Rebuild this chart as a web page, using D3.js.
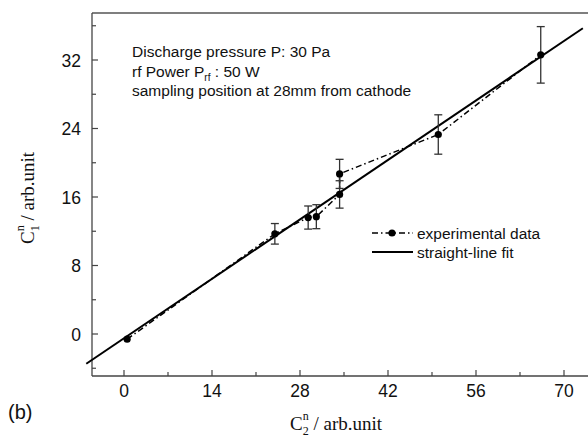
<!DOCTYPE html>
<html>
<head>
<meta charset="utf-8">
<script src="https://cdn.jsdelivr.net/npm/d3@7"></script>
<style>
  body { margin: 0; background: #fff; }
  text { fill: #111; }
</style>
</head>
<body>
<svg id="chart" width="588" height="437"></svg>
<script>
// data (C2^n, C1^n, error)
const c2 = [0.5, 24.0, 29.3, 30.6, 34.3, 34.3, 50.0, 66.3];
const c1 = [-0.6, 11.7, 13.6, 13.7, 16.3, 18.7, 23.3, 32.6];
const err = [0, 1.2, 1.35, 1.4, 1.6, 1.7, 2.3, 3.3];
const fitX = [-6, 73];
const fitSlope = 0.496, fitIntercept = -0.5;
const xTicks = [0, 14, 28, 42, 56, 70];
const yTicks = [0, 8, 16, 24, 32];
const xMinor = [-7, 7, 21, 35, 49, 63];
const yMinor = [-4, 4, 12, 20, 28, 36];

const svg = d3.select("#chart");
const pLeft = 92, pRight = 588, pTop = 13, pBottom = 376;

const x = d3.scaleLinear().domain([0, 70]).range([124, 564]);
const y = d3.scaleLinear().domain([0, 32]).range([334, 60]);

const pts = c2.map((v, i) => ({ x: v, y: c1[i], e: err[i] }));

// frame
svg.append("line").attr("x1", pLeft).attr("x2", pRight).attr("y1", pTop).attr("y2", pTop)
  .attr("stroke", "#555").attr("stroke-width", 1.3);
svg.append("line").attr("x1", pLeft).attr("x2", pRight).attr("y1", pBottom).attr("y2", pBottom)
  .attr("stroke", "#444").attr("stroke-width", 1.3);
svg.append("line").attr("x1", pLeft).attr("x2", pLeft).attr("y1", pTop).attr("y2", pBottom)
  .attr("stroke", "#444").attr("stroke-width", 1.3);

// ticks (inward)
const tickG = svg.append("g").attr("stroke", "#444").attr("stroke-width", 1.2);
tickG.selectAll(".xt").data(xTicks).join("line").attr("class", "xt")
  .attr("x1", d => x(d)).attr("x2", d => x(d)).attr("y1", pBottom).attr("y2", pBottom - 6);
tickG.selectAll(".xm").data(xMinor.filter(d => x(d) > pLeft && x(d) < pRight)).join("line").attr("class", "xm")
  .attr("x1", d => x(d)).attr("x2", d => x(d)).attr("y1", pBottom).attr("y2", pBottom - 4);
tickG.selectAll(".yt").data(yTicks).join("line").attr("class", "yt")
  .attr("x1", pLeft).attr("x2", pLeft + 6).attr("y1", d => y(d)).attr("y2", d => y(d));
tickG.selectAll(".ym").data(yMinor.filter(d => y(d) > pTop && y(d) < pBottom)).join("line").attr("class", "ym")
  .attr("x1", pLeft).attr("x2", pLeft + 4).attr("y1", d => y(d)).attr("y2", d => y(d));

// tick labels
const sans = "'Liberation Sans', Arial, sans-serif";
svg.append("g").selectAll("text").data(xTicks).join("text")
  .attr("x", d => x(d)).attr("y", 397).attr("text-anchor", "middle")
  .style("font", "17.5px " + sans).text(d => d);
svg.append("g").selectAll("text").data(yTicks).join("text")
  .attr("x", 81).attr("y", d => y(d) + 6.5).attr("text-anchor", "end")
  .style("font", "17.5px " + sans).text(d => d);

// straight-line fit
svg.append("line")
  .attr("x1", x(fitX[0])).attr("y1", y(fitSlope * fitX[0] + fitIntercept))
  .attr("x2", x(fitX[1])).attr("y2", y(fitSlope * fitX[1] + fitIntercept))
  .attr("stroke", "#000").attr("stroke-width", 2);

// experimental data, dash-dot
const order = [0, 1, 2, 3, 4, 5, 6, 7];
svg.append("path")
  .attr("d", d3.line().x(i => x(pts[i].x)).y(i => y(pts[i].y))(order))
  .attr("fill", "none").attr("stroke", "#000").attr("stroke-width", 1.5)
  .attr("stroke-dasharray", "6,3,1.5,3");

// error bars
const eb = svg.append("g").attr("stroke", "#333").attr("stroke-width", 1.3);
pts.filter(p => p.e > 0).forEach(p => {
  eb.append("line").attr("x1", x(p.x)).attr("x2", x(p.x)).attr("y1", y(p.y - p.e)).attr("y2", y(p.y + p.e));
  eb.append("line").attr("x1", x(p.x) - 4).attr("x2", x(p.x) + 4).attr("y1", y(p.y - p.e)).attr("y2", y(p.y - p.e));
  eb.append("line").attr("x1", x(p.x) - 4).attr("x2", x(p.x) + 4).attr("y1", y(p.y + p.e)).attr("y2", y(p.y + p.e));
});

svg.append("g").selectAll("circle").data(pts).join("circle")
  .attr("cx", d => x(d.x)).attr("cy", d => y(d.y)).attr("r", 3.6).attr("fill", "#000");

// annotation
const ann = svg.append("text").attr("x", 132).attr("y", 57)
  .style("font", "15.5px " + sans);
ann.append("tspan").attr("x", 132).attr("y", 57).text("Discharge pressure P: 30 Pa");
const l2 = ann.append("tspan").attr("x", 132).attr("y", 77).text("rf Power P");
l2.append("tspan").attr("dy", 4).style("font-size", "10px").text("rf");
l2.append("tspan").attr("dy", -4).text(" : 50 W");
ann.append("tspan").attr("x", 132).attr("y", 96).text("sampling position at 28mm from cathode");

// legend
const lg = svg.append("g");
lg.append("line").attr("x1", 372).attr("x2", 413).attr("y1", 233).attr("y2", 233)
  .attr("stroke", "#000").attr("stroke-width", 1.5).attr("stroke-dasharray", "6,3,1.5,3");
lg.append("circle").attr("cx", 392).attr("cy", 233).attr("r", 3.6).attr("fill", "#000");
lg.append("line").attr("x1", 372).attr("x2", 413).attr("y1", 252).attr("y2", 252)
  .attr("stroke", "#000").attr("stroke-width", 2);
lg.append("text").attr("x", 417).attr("y", 238.5)
  .style("font", "15.5px " + sans).text("experimental data");
lg.append("text").attr("x", 417).attr("y", 257.5)
  .style("font", "15.5px " + sans).text("straight-line fit");

// axis titles
const serif = "19px 'Liberation Serif', 'Times New Roman', serif";
const xt = svg.append("text").attr("x", 290).attr("y", 430).style("font", serif);
xt.append("tspan").text("C");
xt.append("tspan").attr("dy", 5).style("font-size", "12px").text("2");
xt.append("tspan").attr("dx", -6).attr("dy", -15).style("font-size", "12px").text("n");
xt.append("tspan").attr("dy", 10).text(" / arb.unit");

const yt = svg.append("text").attr("transform", "translate(34,244) rotate(-90)").style("font", serif);
yt.append("tspan").text("C");
yt.append("tspan").attr("dy", 5).style("font-size", "12px").text("1");
yt.append("tspan").attr("dx", -6).attr("dy", -15).style("font-size", "12px").text("n");
yt.append("tspan").attr("dy", 10).text(" / arb.unit");

// panel label
svg.append("text").attr("x", 8).attr("y", 419)
  .style("font", "20px " + sans).text("(b)");
</script>
</body>
</html>
